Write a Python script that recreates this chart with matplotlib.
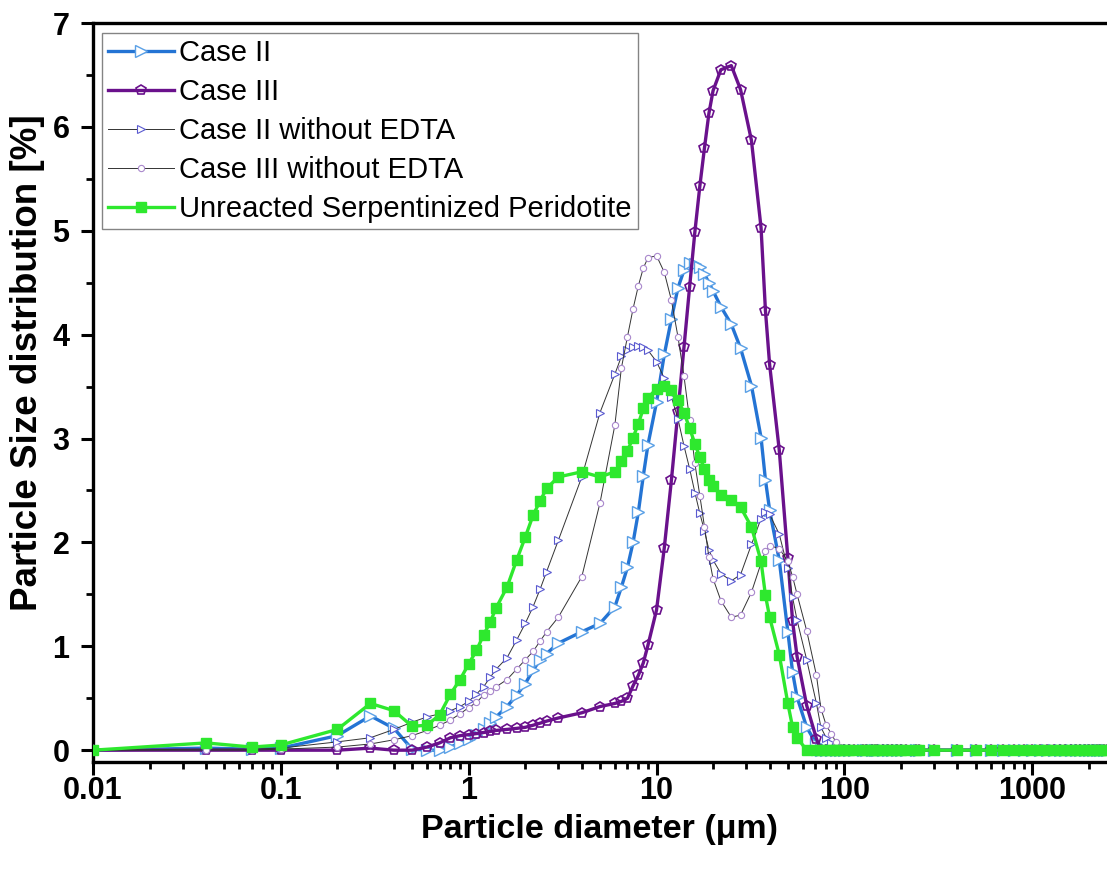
import matplotlib
matplotlib.use("Agg")
import matplotlib.pyplot as plt
from matplotlib.ticker import LogLocator, MultipleLocator, FixedLocator, FixedFormatter, NullFormatter

plt.rcParams['font.family'] = ['Liberation Sans', 'DejaVu Sans']

# Particle diameter bins (µm)
diam = [0.01, 0.04, 0.07, 0.1, 0.2, 0.3, 0.4, 0.5, 0.6, 0.7, 0.8, 0.9,
        1.0, 1.1, 1.2, 1.3, 1.4, 1.6, 1.8, 2.0, 2.2, 2.4, 2.6, 3.0, 4.0, 5.0,
        6.0, 6.5, 7.0, 7.5, 8.0, 8.5, 9.0, 10, 11, 12, 13, 14, 15, 16, 17, 18,
        19, 20, 22, 25, 28, 32, 36, 38, 40, 45, 50, 53, 56, 63, 71, 75, 80, 85,
        90, 95, 100, 106, 112, 125, 130, 140, 145, 150, 160, 170, 180, 190, 200,
        212, 242, 250, 300, 400, 500, 600, 700, 800, 900, 1000, 1100, 1200, 1300,
        1400, 1500, 1600, 1700, 1800, 1900, 2000, 2100, 2200, 2300, 2400, 2500]

# values for diam 0.01 ... 100 (63 bins); beyond 100 all series read as 0
case2 = [0.0, 0.02, 0.01, 0.02, 0.14, 0.33, 0.21, 0.01, 0.0, 0.0, 0.03, 0.07,
         0.11, 0.15, 0.20, 0.26, 0.32, 0.42, 0.53, 0.64, 0.77, 0.87, 0.93, 1.03, 1.14, 1.22,
         1.38, 1.57, 1.76, 2.00, 2.29, 2.64, 2.94, 3.35, 3.81, 4.15, 4.45, 4.62, 4.69, 4.68, 4.65, 4.58,
         4.50, 4.42, 4.27, 4.10, 3.87, 3.51, 3.01, 2.60, 2.31, 1.83, 1.14, 0.75, 0.51, 0.22, 0.06, 0.0, 0.0, 0.0,
         0.0, 0.0, 0.0]
case3 = [0.0, 0.0, 0.0, 0.0, 0.0, 0.02, 0.0, 0.0, 0.03, 0.07, 0.12, 0.14,
         0.15, 0.16, 0.17, 0.18, 0.19, 0.20, 0.21, 0.22, 0.24, 0.26, 0.28, 0.31, 0.36, 0.42,
         0.45, 0.47, 0.50, 0.62, 0.72, 0.84, 1.01, 1.35, 1.95, 2.60, 3.26, 3.88, 4.46, 4.99, 5.43, 5.80,
         6.13, 6.35, 6.55, 6.59, 6.36, 5.87, 5.03, 4.23, 3.71, 2.89, 1.85, 1.24, 0.90, 0.43, 0.11, 0.0, 0.0, 0.0,
         0.0, 0.0, 0.0]
case2_noedta = [0.0, 0.01, 0.01, 0.02, 0.08, 0.12, 0.20, 0.27, 0.32, 0.35, 0.38, 0.42,
                0.47, 0.54, 0.61, 0.70, 0.78, 0.89, 1.06, 1.22, 1.38, 1.55, 1.72, 2.02, 2.63, 3.25,
                3.62, 3.79, 3.85, 3.88, 3.89, 3.88, 3.85, 3.74, 3.58, 3.40, 3.19, 2.93, 2.71, 2.48, 2.28, 2.11,
                1.93, 1.83, 1.70, 1.63, 1.69, 1.98, 2.23, 2.29, 2.27, 2.08, 1.75, 1.47, 1.25, 0.87, 0.45, 0.22, 0.12, 0.07,
                0.03, 0.0, 0.0]
case3_noedta = [0.0, 0.0, 0.0, 0.01, 0.03, 0.06, 0.10, 0.14, 0.19, 0.24, 0.29, 0.35,
                0.41, 0.46, 0.53, 0.57, 0.61, 0.68, 0.78, 0.87, 0.95, 1.05, 1.14, 1.28, 1.67, 2.38,
                3.13, 3.68, 3.98, 4.25, 4.47, 4.64, 4.74, 4.76, 4.60, 4.33, 3.98, 3.60, 3.18, 2.76, 2.45, 2.15,
                1.86, 1.65, 1.44, 1.28, 1.30, 1.52, 1.80, 1.92, 1.97, 1.94, 1.82, 1.67, 1.50, 1.15, 0.72, 0.40, 0.24, 0.16,
                0.08, 0.03, 0.0]
unreacted = [0.0, 0.07, 0.03, 0.05, 0.20, 0.45, 0.38, 0.23, 0.24, 0.34, 0.54, 0.68,
             0.83, 0.96, 1.11, 1.23, 1.37, 1.57, 1.83, 2.05, 2.26, 2.40, 2.52, 2.63, 2.68, 2.63,
             2.68, 2.78, 2.88, 3.01, 3.14, 3.29, 3.39, 3.48, 3.51, 3.47, 3.37, 3.25, 3.10, 2.95, 2.82, 2.71,
             2.60, 2.54, 2.46, 2.41, 2.34, 2.15, 1.82, 1.49, 1.28, 0.92, 0.45, 0.22, 0.12, 0.0, 0.0, 0.0, 0.0, 0.0,
             0.0, 0.0, 0.0]
tail_zero = [0.0, 0.0, 0.0, 0.0, 0.0, 0.0, 0.0, 0.0, 0.0, 0.0, 0.0, 0.0, 0.0,
             0.0, 0.0, 0.0, 0.0, 0.0, 0.0, 0.0, 0.0, 0.0, 0.0, 0.0, 0.0, 0.0,
             0.0, 0.0, 0.0, 0.0, 0.0, 0.0, 0.0, 0.0, 0.0, 0.0, 0.0, 0.0]

labels = ["Case II", "Case III", "Case II without EDTA", "Case III without EDTA",
          "Unreacted Serpentinized Peridotite"]
xtick_vals = [0.01, 0.1, 1, 10, 100, 1000]
xtick_labels = ["0.01", "0.1", "1", "10", "100", "1000"]

fig = plt.figure(figsize=(11.07, 8.72), dpi=100)
ax = fig.add_axes([0.084, 0.126, 0.916, 0.8476])

ax.plot(diam, case2 + tail_zero, color='#2474d4', lw=2.4, marker='>', ms=8.5,
        mfc='white', mec='#5aa0e6', mew=1.0, label=labels[0], zorder=3)
ax.plot(diam, case3 + tail_zero, color='#6a118c', lw=2.4, marker='p', ms=7.5,
        mfc='none', mec='#6a118c', mew=1.2, label=labels[1], zorder=4)
ax.plot(diam, case2_noedta + tail_zero, color='#333333', lw=0.7, marker='>', ms=5.5,
        mfc='white', mec='#5a5ad0', mew=0.8, label=labels[2], zorder=5)
ax.plot(diam, case3_noedta + tail_zero, color='#333333', lw=0.7, marker='o', ms=4.5,
        mfc='white', mec='#a988cc', mew=0.8, label=labels[3], zorder=5)
ax.plot(diam, unreacted + tail_zero, color='#2ee82e', lw=2.4, marker='s', ms=6.5,
        mfc='#2ee82e', mec='#2ee82e', label=labels[4], zorder=6)

ax.set_xscale('log')
ax.set_xlim(0.01, 2500)
ax.set_ylim(-0.115, 7)

ax.xaxis.set_major_locator(FixedLocator(xtick_vals))
ax.xaxis.set_major_formatter(FixedFormatter(xtick_labels))
ax.xaxis.set_minor_locator(LogLocator(base=10, subs=[2, 3, 4, 5, 6, 7, 8, 9], numticks=20))
ax.xaxis.set_minor_formatter(NullFormatter())
ax.yaxis.set_major_locator(MultipleLocator(1))
ax.yaxis.set_minor_locator(MultipleLocator(0.5))

for s in ['left', 'bottom', 'top']:
    ax.spines[s].set_linewidth(2.4)
    ax.spines[s].set_color('black')
ax.spines['right'].set_visible(False)

ax.tick_params(which='major', direction='out', length=9, width=2.2, top=False, right=False,
               labelsize=22)
ax.tick_params(axis='x', which='major', pad=1)
ax.tick_params(axis='y', which='major', pad=8)
ax.tick_params(which='minor', direction='out', length=5, width=2.0, top=False, right=False)
for lab in ax.get_xticklabels() + ax.get_yticklabels():
    lab.set_fontweight('bold')

ax.set_xlabel("Particle diameter (μm)", fontsize=24.5, fontweight='bold')
ax.xaxis.set_label_coords(0.5, -0.070)
ax.set_ylabel("Particle Size distribution [%]", fontsize=26.5, fontweight='bold')
ax.yaxis.set_label_coords(-0.047, 0.541)

leg = ax.legend(loc='upper left', bbox_to_anchor=(0.009, 0.9865), borderaxespad=0,
                fontsize=21, frameon=True, fancybox=False, edgecolor='#666666',
                handlelength=2.25, handletextpad=0.2, labelspacing=0.38, borderpad=0.2,
                numpoints=1)
leg.get_frame().set_linewidth(1.0)

fig.savefig('out.png', dpi=100)
